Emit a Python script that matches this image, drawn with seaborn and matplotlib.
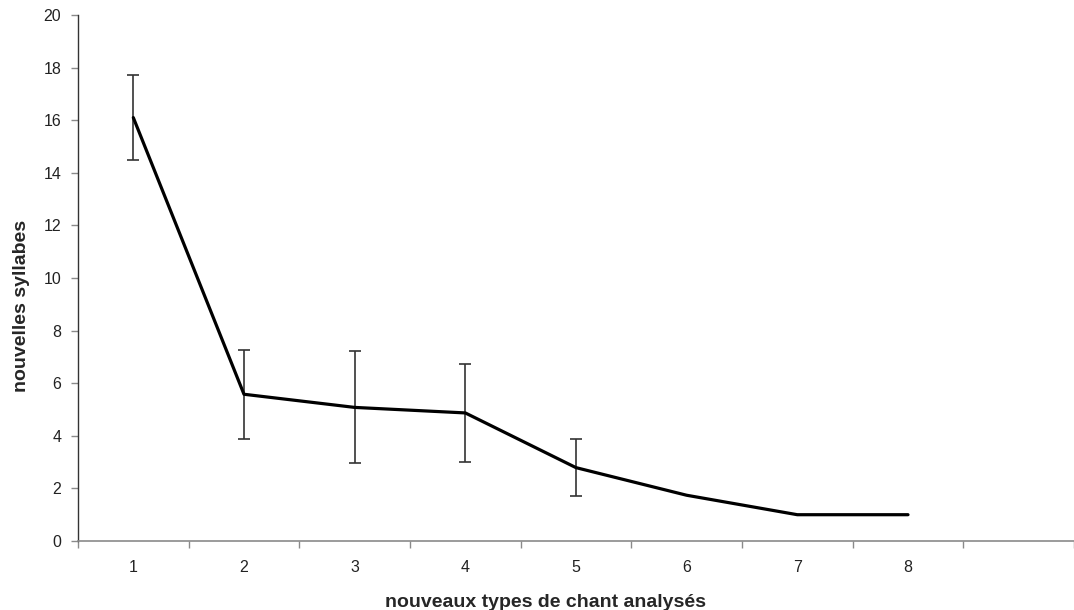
import numpy as np
import pandas as pd
import matplotlib
matplotlib.use("Agg")
import matplotlib.pyplot as plt
import seaborn as sns

# data
types_chant = ["1", "2", "3", "4", "5", "6", "7", "8"]
syllabes = [16.1, 5.58, 5.08, 4.87, 2.79, 1.74, 1.0, 1.0]
erreur = [1.6, 1.7, 2.13, 1.87, 1.07, np.nan, np.nan, np.nan]

sns.set_style("white")
plt.rcParams["font.family"] = ["Liberation Sans", "DejaVu Sans"]

df = pd.DataFrame({"pos": np.arange(len(types_chant)), "syllabes": syllabes, "err": erreur})

fig = plt.figure(figsize=(10.74, 6.10), dpi=100)
ax = fig.add_axes([0.0726, 0.1131, 0.9274, 0.8623])

grey = "#8a8a8a"
has_err = df["err"].notna()
ax.errorbar(df.loc[has_err, "pos"], df.loc[has_err, "syllabes"], yerr=df.loc[has_err, "err"],
            fmt="none", ecolor="#333333", elinewidth=1.2, capsize=4, capthick=1.2, zorder=2)
sns.lineplot(data=df, x="pos", y="syllabes", color="black", linewidth=2.3, ax=ax, zorder=3)

ax.set_xlim(-0.5, 8.5)
ax.set_ylim(0, 20)
ax.set_yticks(np.arange(0, 21, 2))
ax.set_xticks(np.arange(len(types_chant)))
ax.set_xticklabels(types_chant)
ax.set_xticks(np.arange(-0.5, 9.0, 1.0), minor=True)

ax.tick_params(axis="x", which="major", bottom=False, pad=10, labelsize=11.5, colors="#222222")
ax.tick_params(axis="x", which="minor", bottom=True, length=5, width=1, color=grey, direction="out")
ax.tick_params(axis="y", left=True, length=5, width=1, color=grey, direction="out", pad=7,
               labelsize=11.5, labelcolor="#222222")

for s in ["top", "right"]:
    ax.spines[s].set_visible(False)
ax.spines["left"].set_color("#333333")
ax.spines["bottom"].set_color(grey)
ax.spines["left"].set_linewidth(1)
ax.spines["bottom"].set_linewidth(1.2)

ax.set_xlabel("nouveaux types de chant analysés", fontsize=14, fontweight="bold")
ax.set_ylabel("nouvelles syllabes", fontsize=14, fontweight="bold")
ax.xaxis.set_label_coords(0.469, -0.1)
ax.yaxis.set_label_coords(-0.048, 0.447)

fig.savefig("out.png", dpi=100)
